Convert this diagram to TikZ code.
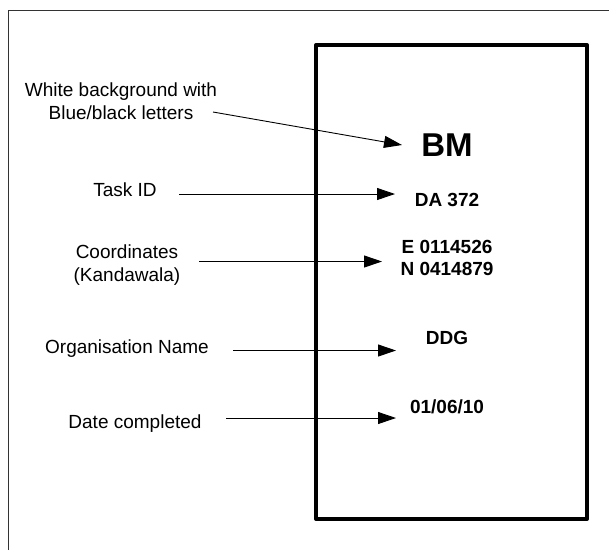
\documentclass[tikz,border=0pt]{standalone}
\usepackage{fontspec}
\setmainfont{Liberation Sans}
\usetikzlibrary{arrows.meta}
\begin{document}
\begin{tikzpicture}[x=1pt,y=-1pt,
  lbl/.style={font=\fontsize{19}{23}\selectfont, align=center, inner sep=0pt},
  val/.style={font=\fontsize{19}{22}\selectfont\bfseries, align=center, inner sep=0pt},
  conn/.style={line width=0.9pt, -{Triangle[length=18pt,width=12pt]}}]
\useasboundingbox (0,0) rectangle (609,550);
% outer frame (cropped)
\draw[line width=1pt, black!80] (8,550) -- (8,10) -- (609,10);
% sign board
\draw[line width=4pt, line join=round] (316,45) rectangle (587,519);
% values
\node[val, font=\fontsize{33}{36}\selectfont\bfseries] (bm) at (447,145) {BM};
\node[val] (task) at (447,200) {DA 372};
\node[val] (coord) at (447,258) {E 0114526\\N 0414879};
\node[val] (org) at (447,338) {DDG};
\node[val] (date) at (447,407) {01/06/10};
% labels
\node[lbl] (lwb) at (121,101) {White background with\\Blue/black letters};
\node[lbl] (ltask) at (125,190) {Task ID};
\node[lbl] (lcoord) at (127,265) {Coordinates\\(Kandawala)};
\node[lbl] (lorg) at (127,349) {Organisation Name};
\node[lbl] (ldate) at (135,424) {Date completed};
% connector end points
\coordinate (s1) at (213,112); \coordinate (e1) at (402,145);
\coordinate (s2) at (179,194); \coordinate (e2) at (395,194);
\coordinate (s3) at (199,261.5); \coordinate (e3) at (382,261.5);
\coordinate (s4) at (233,350.5); \coordinate (e4) at (396,350.5);
\coordinate (s5) at (226,418); \coordinate (e5) at (396,418);
\draw[conn] (s1) -- (e1);
\draw[conn] (s2) -- (e2);
\draw[conn] (s3) -- (e3);
\draw[conn] (s4) -- (e4);
\draw[conn] (s5) -- (e5);
\end{tikzpicture}
\end{document}
